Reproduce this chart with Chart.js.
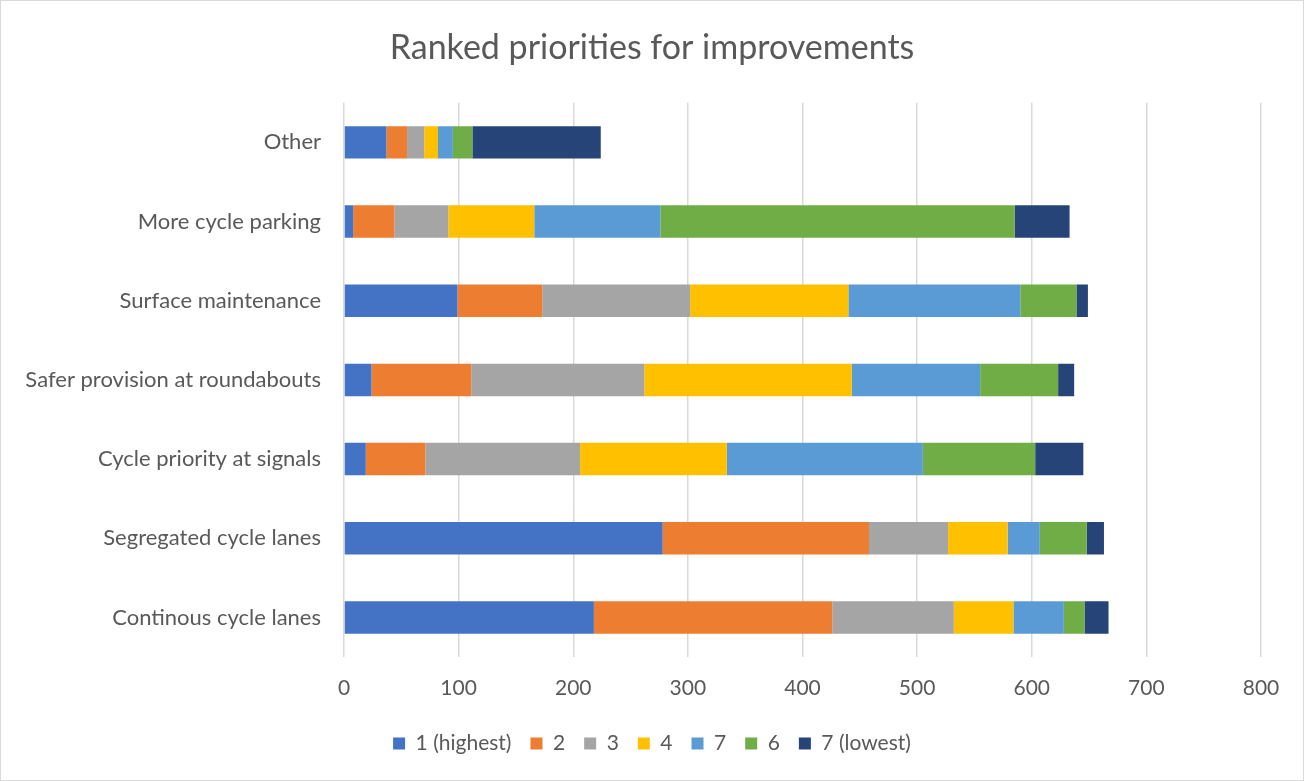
<!DOCTYPE html>
<html>
<head>
<meta charset="utf-8">
<script src="https://cdn.jsdelivr.net/npm/chart.js@4"></script>
<style>
  html, body { margin: 0; padding: 0; background: #fff; }
  #wrap { position: relative; width: 1302px; height: 779px; border: 1px solid #d9d9d9; }
</style>
</head>
<body>
<div id="wrap">
  <canvas id="chart" width="1302" height="779"></canvas>
</div>
<script>
const categories = [
  "Other",
  "More cycle parking",
  "Surface maintenance",
  "Safer provision at roundabouts",
  "Cycle priority at signals",
  "Segregated cycle lanes",
  "Continous cycle lanes",
];

const seriesNames = ["1 (highest)", "2", "3", "4", "7", "6", "7 (lowest)"];

// values per rank, in category order (top to bottom)
const rank1 = [37, 8, 99, 24, 19, 278, 218];
const rank2 = [18, 36, 74, 87, 52, 180, 208];
const rank3 = [15, 47, 129, 151, 135, 69, 106];
const rank4 = [12, 75, 138, 181, 128, 52, 52];
const rank5 = [13, 110, 150, 112, 171, 28, 44];
const rank6 = [17, 309, 49, 68, 98, 41, 18];
const rank7 = [112, 48, 10, 14, 42, 15, 21];

const xTicks = [0, 100, 200, 300, 400, 500, 600, 700, 800];

const colors = ["#4472C4", "#ED7D31", "#A5A5A5", "#FFC000", "#5B9BD5", "#70AD47", "#264478"];
const allSeries = [rank1, rank2, rank3, rank4, rank5, rank6, rank7];

const font = "Lato, 'Open Sans', sans-serif";
const textColor = "#595959";

// Build datasets from the arrays above
const datasets = allSeries.map((vals, i) => ({
  label: seriesNames[i],
  data: vals,
  backgroundColor: colors[i],
  borderWidth: 0,
  barPercentage: 0.41,
  categoryPercentage: 1.0,
}));

const ctx = document.getElementById("chart").getContext("2d");
new Chart(ctx, {
  type: "bar",
  data: { labels: categories, datasets: datasets },
  options: {
    indexAxis: "y",
    responsive: false,
    animation: false,
    layout: { padding: { top: 0, right: 10, bottom: 16, left: 10 } },
    plugins: {
      title: {
        display: true,
        text: "Ranked priorities for improvements",
        color: textColor,
        font: { family: font, size: 34, weight: "normal" },
        padding: { top: 27, bottom: 34 },
      },
      legend: {
        position: "bottom",
        labels: {
          color: textColor,
          font: { family: font, size: 21 },
          boxWidth: 12,
          boxHeight: 12,
          padding: 19,
        },
      },
      tooltip: { enabled: false },
    },
    scales: {
      x: {
        stacked: true,
        min: 0,
        max: 800,
        afterBuildTicks: (scale) => {
          scale.ticks = xTicks.map((v) => ({ value: v }));
        },
        ticks: {
          color: textColor,
          font: { family: font, size: 21 },
          padding: 19,
        },
        grid: { color: "#d9d9d9", lineWidth: 1.5, drawTicks: false },
        border: { display: false },
        afterFit: (scale) => { scale.height = 57; },
      },
      y: {
        stacked: true,
        ticks: {
          color: textColor,
          font: { family: font, size: 22 },
          padding: 15,
        },
        grid: { display: false },
        border: { display: false },
        afterFit: (scale) => { scale.width = 333; },
      },
      // empty axis on the right, only reserves the right margin of the plot
      spacer: {
        type: "category",
        position: "right",
        labels: categories,
        ticks: { display: false },
        grid: { display: false },
        border: { display: false },
        afterFit: (scale) => { scale.width = 32; },
      },
    },
  },
});
</script>
</body>
</html>
